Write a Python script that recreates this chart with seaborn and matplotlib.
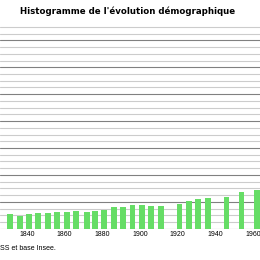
import matplotlib
matplotlib.use("Agg")
import matplotlib.pyplot as plt
from matplotlib.ticker import MultipleLocator
import seaborn as sns
import pandas as pd

years = [1831, 1836, 1841, 1846, 1851, 1856, 1861, 1866, 1872, 1876, 1881, 1886,
         1891, 1896, 1901, 1906, 1911, 1921, 1926, 1931, 1936, 1946, 1954, 1962]
population = [112, 97, 109, 119, 119, 126, 126, 132, 125, 134, 141, 158,
              158, 178, 173, 169, 169, 181, 203, 221, 230, 238, 275, 285]
tick_years = [1840, 1860, 1880, 1900, 1920, 1940, 1960]
title = "Histogramme de l'évolution démographique"
source = "SS et base Insee."

sns.set_theme(style="white")
plt.rcParams['font.family'] = ['Liberation Sans', 'DejaVu Sans']

df = pd.DataFrame({"annee": years, "pop": population})

fig = plt.figure(figsize=(2.6, 2.6), dpi=100)
ax = fig.add_axes([0.0, 1 - 228.7 / 260, 1.0, (228.7 - 25) / 260])

sns.barplot(data=df, x="annee", y="pop", native_scale=True, width=0.78,
            color="#66dd66", saturation=1, ax=ax, edgecolor="none")

ax.set_xlim(1825.6, 1963.8)
ax.set_ylim(0, 1514)
ax.yaxis.set_major_locator(MultipleLocator(200))
ax.yaxis.set_minor_locator(MultipleLocator(50))
ax.grid(which="major", axis="y", color="#808080", linewidth=0.8)
ax.grid(which="minor", axis="y", color="#cccccc", linewidth=0.8)
ax.grid(which="major", axis="x", visible=False)
ax.set_axisbelow(True)
ax.set_yticklabels([])
ax.tick_params(axis="y", which="both", length=0, labelleft=False)
ax.set_xticks(tick_years)
ax.set_xticklabels([str(t) for t in tick_years])
ax.tick_params(axis="x", length=0, pad=2, labelsize=5, labelcolor="black")
ax.set_xlabel("")
ax.set_ylabel("")
for s in ax.spines.values():
    s.set_visible(False)

fig.text(128 / 260, 1 - 11 / 260, title, ha="center", va="center",
         fontsize=6.2, fontweight="bold", family=["DejaVu Sans"], color="black")
fig.text(0.0, 1 - 249 / 260, source, ha="left", va="center", fontsize=5,
         color="black")

fig.savefig("out.png", dpi=100)
